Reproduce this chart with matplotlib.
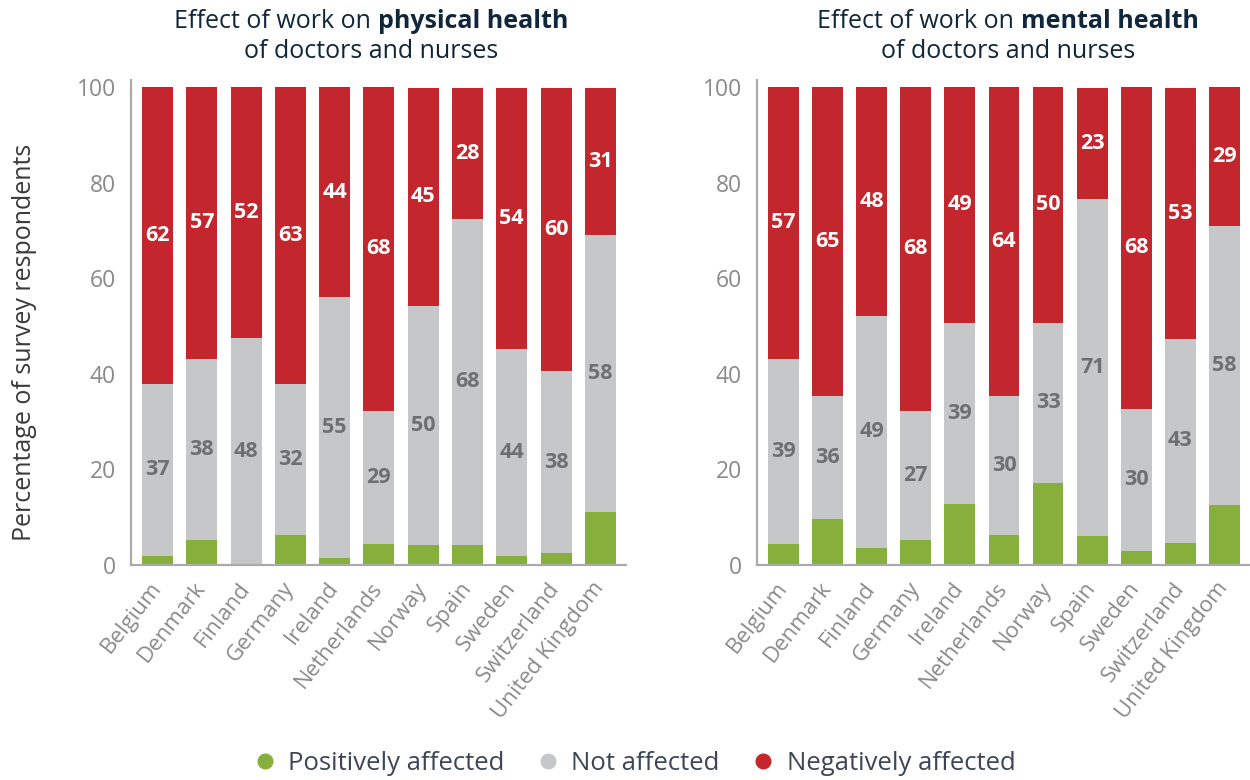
import matplotlib
matplotlib.use("Agg")
import matplotlib.pyplot as plt
from matplotlib.lines import Line2D
import numpy as np

plt.rcParams['font.family'] = ['Open Sans', 'DejaVu Sans']

countries = ["Belgium", "Denmark", "Finland", "Germany", "Ireland", "Netherlands",
             "Norway", "Spain", "Sweden", "Switzerland", "United Kingdom"]

# Physical health (segment sizes, labels as printed)
phys_pos = [1.9, 5.2, 0.0, 6.3, 1.5, 4.4, 4.2, 4.2, 1.9, 2.5, 11.1]
phys_not = [36.0, 38.0, 47.6, 31.6, 54.5, 27.9, 50.1, 68.3, 43.4, 38.0, 57.9]
phys_neg = [62.1, 56.8, 52.4, 62.1, 44.0, 67.7, 45.5, 27.3, 54.5, 59.3, 30.8]
phys_not_labels = [37, 38, 48, 32, 55, 29, 50, 68, 44, 38, 58]
phys_neg_labels = [62, 57, 52, 63, 44, 68, 45, 28, 54, 60, 31]

# Mental health
ment_pos = [4.4, 9.6, 3.6, 5.2, 12.8, 6.3, 17.2, 6.1, 2.9, 4.6, 12.6]
ment_not = [38.8, 25.8, 48.6, 27.1, 37.9, 29.1, 33.5, 70.4, 29.8, 42.8, 58.3]
ment_neg = [56.8, 64.6, 47.8, 67.7, 49.3, 64.6, 49.3, 23.3, 67.3, 52.4, 29.1]
ment_not_labels = [39, 36, 49, 27, 39, 30, 33, 71, 30, 43, 58]
ment_neg_labels = [57, 65, 48, 68, 49, 64, 50, 23, 68, 53, 29]

yticks = [0, 20, 40, 60, 80, 100]
legend_labels = ["Positively affected", "Not affected", "Negatively affected"]

GREEN = "#86b03b"
GREY = "#c6c7c9"
RED = "#c4262e"
TICK = "#8a8a8a"
LABEL_GREY = "#6e6f71"
TITLE = "#10263b"

fig = plt.figure(figsize=(12.5, 7.8), dpi=100)
ax1 = fig.add_axes([131/1250, 1-565/780, (626-131)/1250, (565-80)/780])
ax2 = fig.add_axes([757/1250, 1-565/780, (1250-757)/1250, (565-80)/780])


def draw(ax, pos, nota, neg, not_labels, neg_labels):
    x = np.arange(len(countries))
    pos = np.array(pos); nota = np.array(nota); neg = np.array(neg)
    ax.bar(x, pos, width=0.7, color=GREEN, linewidth=0)
    ax.bar(x, nota, width=0.7, bottom=pos, color=GREY, linewidth=0)
    ax.bar(x, neg, width=0.7, bottom=pos + nota, color=RED, linewidth=0)
    for i in range(len(x)):
        ax.text(x[i], pos[i] + nota[i] / 2, str(not_labels[i]), ha='center', va='center',
                color=LABEL_GREY, fontsize=15.5, fontweight='bold')
        ax.text(x[i], pos[i] + nota[i] + neg[i] / 2, str(neg_labels[i]), ha='center',
                va='center', color='white', fontsize=15.5, fontweight='bold')
    ax.set_xlim(-0.6, 10.58)
    ax.set_ylim(0, 101.5)
    ax.set_yticks(yticks)
    ax.set_yticklabels([str(v) for v in yticks])
    ax.set_xticks(x)
    ax.set_xticklabels(countries, rotation=52, ha='right', va='center',
                       rotation_mode='anchor')
    ax.tick_params(axis='both', length=0, colors=TICK)
    ax.tick_params(axis='y', pad=11, labelsize=16.5)
    ax.tick_params(axis='x', pad=14, labelsize=16)
    for s in ['top', 'right']:
        ax.spines[s].set_visible(False)
    for s in ['left', 'bottom']:
        ax.spines[s].set_color("#aaaaaa")
        ax.spines[s].set_linewidth(1.6)


draw(ax1, phys_pos, phys_not, phys_neg, phys_not_labels, phys_neg_labels)
draw(ax2, ment_pos, ment_not, ment_neg, ment_not_labels, ment_neg_labels)

ax1.set_ylabel("Percentage of survey respondents", fontsize=18, color="#3a3a3a")
ax1.yaxis.set_label_coords(-0.19, 0.46)

# Titles with bold part
renderer = fig.canvas.get_renderer()


def title(cx, bold_word):
    y1 = 1 - 21/780
    y2 = 1 - 51/780
    fs = 18
    t_a = fig.text(0, y1, "Effect of work on ", fontsize=fs, color=TITLE, va='center')
    t_b = fig.text(0, y1, bold_word, fontsize=fs, color=TITLE, va='center',
                   fontweight='bold')
    wa = t_a.get_window_extent(renderer).width / 1250
    wb = t_b.get_window_extent(renderer).width / 1250
    start = cx - (wa + wb) / 2
    t_a.set_x(start)
    t_b.set_x(start + wa)
    fig.text(cx, y2, "of doctors and nurses", fontsize=fs, color=TITLE, va='center',
             ha='center')


title(371/1250, "physical health")
title(1008/1250, "mental health")

handles = [Line2D([], [], linestyle='none', marker='o', markersize=10.5,
                  markerfacecolor=c, markeredgecolor=c) for c in (GREEN, GREY, RED)]
leg = fig.legend(handles, legend_labels, loc='center', bbox_to_anchor=(0.506, 1 - 763/780),
                 ncol=3, frameon=False, fontsize=18.5, handletextpad=0.3,
                 columnspacing=1.1, handlelength=1.2)
for t in leg.get_texts():
    t.set_color("#3c4656")

fig.savefig("out.png", dpi=100)
